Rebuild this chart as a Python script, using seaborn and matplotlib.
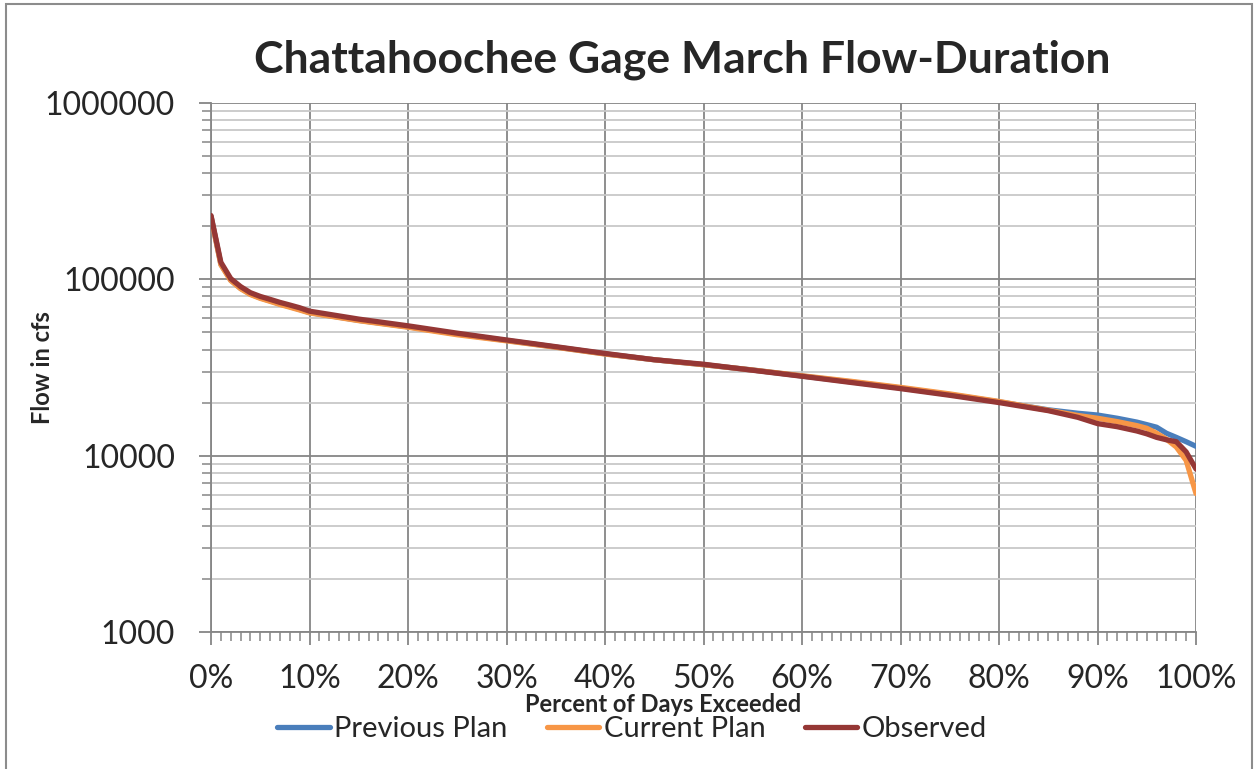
import numpy as np
import pandas as pd
import matplotlib
matplotlib.use("Agg")
import matplotlib.pyplot as plt
import matplotlib.ticker as mticker
from matplotlib.patches import Rectangle
import seaborn as sns

# percent of days exceeded (x) and flows in cfs
pct = [0, 1, 2, 3, 4, 5, 6, 7, 8, 9, 10, 15, 20, 25, 30, 35, 40, 45, 50,
       55, 60, 65, 70, 75, 80, 85, 88, 90, 92, 94, 95, 96, 97, 98, 99, 100]

previous_plan = [228000, 122000, 99000, 89000, 82500, 78500, 75500, 72500, 70000, 67500, 64800,
                 58500, 53800, 49000, 45000, 41300, 37800, 35000, 32800, 30600, 28300, 26200,
                 24200, 22200, 20200, 18200, 17400, 17000, 16300, 15500, 15000, 14500, 13400,
                 12700, 12000, 11300]
current_plan = [226000, 121000, 98500, 88500, 82000, 78000, 75000, 72000, 69500, 67000, 64500,
                58300, 53500, 48500, 44800, 41200, 37700, 35000, 32800, 30600, 28400, 26400,
                24400, 22400, 20300, 18100, 16900, 16300, 15600, 14800, 14300, 13400, 12400,
                11200, 9400, 6100]
observed = [230000, 125000, 101000, 91000, 84000, 80000, 77000, 74000, 71500, 69000, 66000,
            59500, 54500, 49500, 45300, 41500, 38000, 35000, 33000, 30500, 28200, 26000,
            24000, 22000, 20000, 18000, 16500, 15200, 14600, 13800, 13300, 12700, 12300,
            12000, 10500, 8400]

series_names = ["Previous Plan", "Current Plan", "Observed"]
colors = ["#4A7EBB", "#F79646", "#953735"]

df = pd.DataFrame({
    "pct": pct * 3,
    "flow": previous_plan + current_plan + observed,
    "series": [series_names[0]] * len(pct) + [series_names[1]] * len(pct) + [series_names[2]] * len(pct),
})

sns.set_style("white")
plt.rcParams["font.family"] = ["Lato", "DejaVu Sans"]

W, H = 1255, 769
fig = plt.figure(figsize=(W / 100, H / 100), dpi=100)
ax = fig.add_axes([211 / W, 1 - 632 / H, (1196 - 211) / W, (632 - 103) / H])

sns.lineplot(data=df, x="pct", y="flow", hue="series", hue_order=series_names,
             palette=colors, linewidth=3.8, ax=ax, legend=False, zorder=3)

ax.set_yscale("log")
ax.set_ylim(1000, 1000000)
ax.set_xlim(0, 100)

ax.yaxis.set_major_locator(mticker.LogLocator(base=10, numticks=10))
ax.yaxis.set_minor_locator(mticker.LogLocator(base=10, subs=np.arange(2, 10), numticks=20))
ax.yaxis.set_major_formatter(mticker.FuncFormatter(lambda v, p: f"{int(round(v))}"))
ax.yaxis.set_minor_formatter(mticker.NullFormatter())
ax.xaxis.set_major_locator(mticker.MultipleLocator(10))
ax.xaxis.set_minor_locator(mticker.MultipleLocator(1))
ax.xaxis.set_major_formatter(mticker.FuncFormatter(lambda v, p: f"{v:.0f}%"))

ax.grid(True, which="major", axis="both", color="#868686", linewidth=1.3, zorder=0)
ax.grid(True, which="minor", axis="y", color="#c8c8c8", linewidth=1.3, zorder=0)
ax.set_axisbelow(True)

for side in ["top", "right"]:
    ax.spines[side].set_visible(False)
for side in ["left", "bottom"]:
    ax.spines[side].set_color("#868686")
    ax.spines[side].set_linewidth(1.3)

ax.tick_params(axis="both", which="major", direction="out", length=9, width=1.3,
               color="#868686", labelsize=23, left=True, bottom=True)
ax.tick_params(axis="both", which="minor", direction="out", length=6.5, width=1.1,
               color="#868686", left=True, bottom=True)
ax.tick_params(axis="y", which="major", pad=17)
ax.tick_params(axis="x", which="major", pad=14)
ax.set_xlabel("")
ax.set_ylabel("")

fig.text(682 / W, 1 - 73 / H, "Chattahoochee Gage March Flow-Duration",
         ha="center", va="baseline", fontsize=32, fontweight="bold")
fig.text(43 / W, 1 - 368 / H, "Flow in cfs", rotation=90, ha="center", va="center",
         fontsize=17, fontweight="bold")
fig.text(663 / W, 1 - 704 / H, "Percent of Days Exceeded", ha="center", va="center",
         fontsize=17, fontweight="bold")

handles = [plt.Line2D([0], [0], color=c, linewidth=3.8, solid_capstyle="round") for c in colors]
fig.legend(handles, series_names, loc="center", bbox_to_anchor=(632 / W, 1 - 729 / H),
           ncol=3, frameon=False, fontsize=21, handlelength=1.8, handletextpad=0.15,
           columnspacing=1.35, borderaxespad=0)

fig.patches.append(Rectangle((6 / W, -0.05), (1252 - 6) / W, 1.05 - 4 / H,
                             transform=fig.transFigure, fill=False,
                             edgecolor="#8c8c8c", linewidth=1.5))

fig.savefig("out.png", dpi=100)
